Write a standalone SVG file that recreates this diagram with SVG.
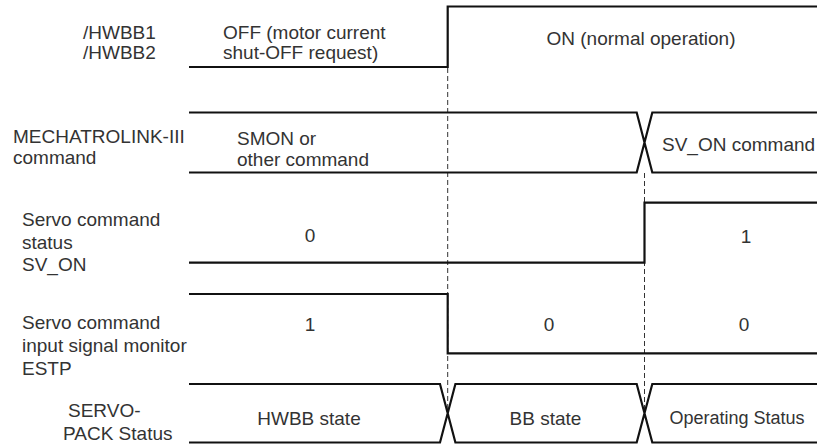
<svg xmlns="http://www.w3.org/2000/svg" width="817" height="444" viewBox="0 0 817 444">
<style>
text{font-family:"Liberation Sans",Arial,Helvetica,sans-serif;font-size:19px;fill:#333}
.mid{text-anchor:middle}
.wave{fill:none;stroke:#111;stroke-width:2.2;stroke-linejoin:miter}
.guide{fill:none;stroke:#333;stroke-width:1;stroke-dasharray:5 3}
</style>
<rect width="817" height="444" fill="#fff"/>
<g id="guides">
<line class="guide" x1="447.7" y1="68" x2="447.7" y2="413"/>
<line class="guide" x1="644.5" y1="173" x2="644.5" y2="413"/>
</g>
<g id="hwbb">
<text x="83" y="38.5">/HWBB1</text>
<text x="83" y="58.5">/HWBB2</text>
<text x="223" y="39">OFF (motor current</text>
<text x="223" y="58.5">shut-OFF request)</text>
<text class="mid" x="641" y="45">ON (normal operation)</text>
<path class="wave" d="M189,67 H447.7 V6.5 H817"/>
</g>
<g id="mechatrolink">
<text x="13" y="142.7">MECHATROLINK-III</text>
<text x="13" y="163.5">command</text>
<text x="237" y="145">SMON or</text>
<text x="237" y="165.5">other command</text>
<text x="662" y="150.5">SV_ON command</text>
<path class="wave" d="M189,112.5 H636.7 L652.3,172.5 H817 M189,172.5 H636.7 L652.3,112.5 H817"/>
</g>
<g id="sv_on">
<text x="22" y="226">Servo command</text>
<text x="22" y="248.5">status</text>
<text x="22" y="271">SV_ON</text>
<text class="mid" x="310" y="242">0</text>
<text class="mid" x="746" y="243">1</text>
<path class="wave" d="M189,262.7 H644.5 V202.7 H817"/>
</g>
<g id="estp">
<text x="22" y="329">Servo command</text>
<text x="22" y="352">input signal monitor</text>
<text x="22" y="375">ESTP</text>
<text class="mid" x="310" y="331">1</text>
<text class="mid" x="549" y="331">0</text>
<text class="mid" x="744" y="331">0</text>
<path class="wave" d="M189,294 H447.7 V353.3 H817"/>
</g>
<g id="servopack">
<text x="68" y="416.7">SERVO-</text>
<text x="63" y="439.7">PACK Status</text>
<text class="mid" x="309" y="424.7">HWBB state</text>
<text class="mid" x="545.5" y="424.7">BB state</text>
<text class="mid" x="737" y="423.5" style="font-size:18px">Operating Status</text>
<path class="wave" d="M189,384 H440 L455.4,442.5 H636.7 L652.3,384 H817 M189,442.5 H440 L455.4,384 H636.7 L652.3,442.5 H817"/>
</g>
</svg>
